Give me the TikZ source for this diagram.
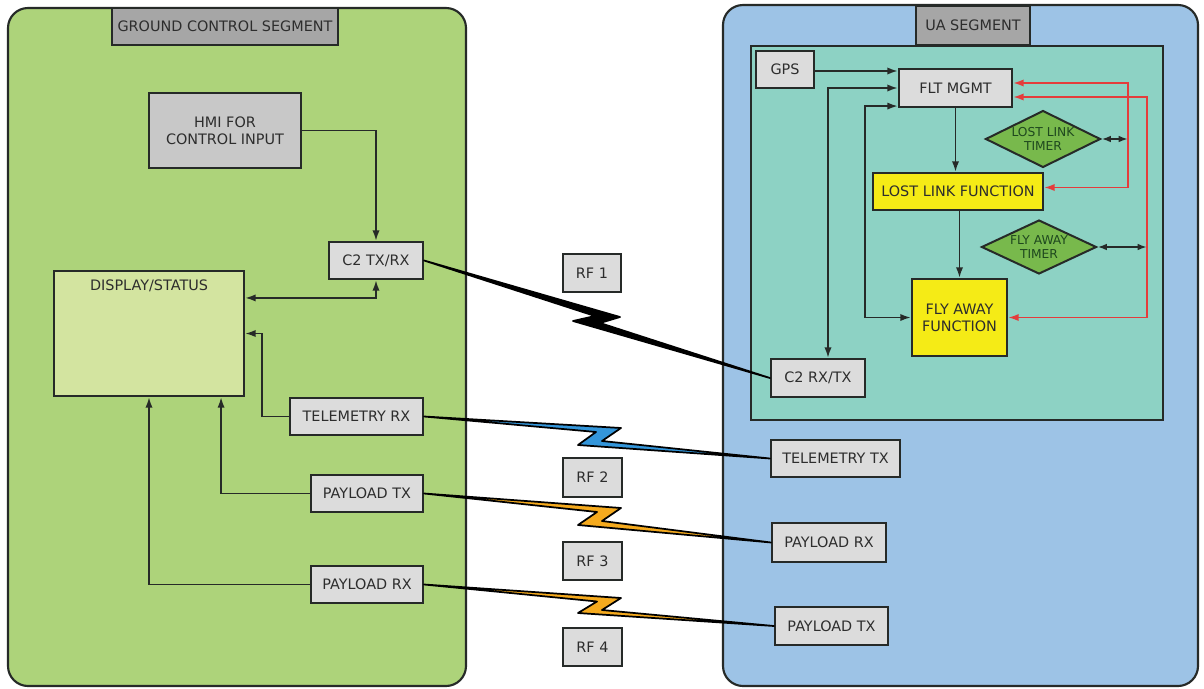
\documentclass[tikz,border=0pt]{standalone}
\usepackage{fontspec}
\setmainfont{DejaVu Sans}
\usetikzlibrary{arrows.meta,shapes.geometric,calc}

\definecolor{gcsgreen}{RGB}{173,211,122}
\definecolor{dispgreen}{RGB}{211,228,160}
\definecolor{uablue}{RGB}{157,195,230}
\definecolor{uateal}{RGB}{141,210,196}
\definecolor{hdrgray}{RGB}{166,166,166}
\definecolor{boxgray}{RGB}{220,220,220}
\definecolor{hmigray}{RGB}{200,200,200}
\definecolor{fnyellow}{RGB}{245,235,22}
\definecolor{tmrgreen}{RGB}{120,185,76}
\definecolor{tmrtext}{RGB}{30,72,30}
\definecolor{linkred}{RGB}{228,60,60}
\definecolor{rfblue}{RGB}{52,150,218}
\definecolor{rforange}{RGB}{245,170,30}
\definecolor{edge}{RGB}{38,42,40}
\definecolor{txt}{RGB}{45,45,45}

\begin{document}
\begin{tikzpicture}[x=0.75pt, y=-0.75pt,
        font=\fontsize{10.8}{12.8}\selectfont,
        sz/.style 2 args = {minimum width=#1*0.75pt, minimum height=#2*0.75pt},
        segment/.style = {draw=edge, line width=1.6pt, rounded corners=20*0.75pt},
        box/.style = {shape=rectangle, draw=edge, line width=1.6pt,
          fill=boxgray, text=txt, inner sep=0pt, align=center},
        hdr/.style = {box, fill=hdrgray},
        func/.style = {box, fill=fnyellow},
        timer/.style = {shape=diamond, draw=edge, line width=1.5pt, fill=tmrgreen,
          text=tmrtext, inner sep=0pt, aspect=1.885, minimum width=115*0.75pt,
          align=center, font=\fontsize{9.2}{10.8}\selectfont},
        arr/.style = {draw=edge, line width=1.4pt, -{Latex[length=8pt,width=5.5pt]}},
        dbl/.style = {draw=edge, line width=1.4pt,
          {Latex[length=8pt,width=5.5pt]}-{Latex[length=8pt,width=5.5pt]}},
        tmrarr/.style = {draw=edge, line width=1.4pt,
          {Latex[length=7pt,width=5pt]}-{Latex[length=7pt,width=5pt]}},
        redarr/.style = {draw=linkred, line width=1.4pt,
          {Latex[length=8pt,width=5.5pt]}-{Latex[length=8pt,width=5.5pt]}},
        bolt/.style = {draw=black, line width=1.3pt, line join=round}]
  \useasboundingbox (0,0) rectangle (1204,689);

  % ground side
  \draw[segment, fill=gcsgreen] (8,8) rectangle (466,686);
  \node[hdr, sz={226}{37}] (gcshdr) at (225,26.5) {GROUND CONTROL SEGMENT};
  \node[box, fill=hmigray, sz={152}{75}] (hmi) at (225,130.5) {HMI FOR\\CONTROL INPUT};
  \node[box, sz={94}{37}] (c2g) at (376,260.5) {C2 TX/RX};
  \node[box, fill=dispgreen, sz={190}{125},
    label={[anchor=north, text=txt, yshift=-3.5pt]north:DISPLAY/STATUS}] (disp) at (149,333.5) {};
  \node[box, sz={133}{37}] (tlmrx) at (356.5,416.5) {TELEMETRY RX};
  \node[box, sz={112}{37}] (pltxg) at (367,493.5) {PAYLOAD TX};
  \node[box, sz={112}{37}] (plrxg) at (367,584.5) {PAYLOAD RX};

  \draw[arr] (hmi.east) -| (c2g.north);
  \draw[dbl] ($(disp.north east)+(0,28)$) -| (c2g.south);
  \draw[arr] (tlmrx.west) -- ++(-27,0) |- (disp.east);
  \draw[arr] (pltxg.west) -| ($(disp.south east)+(-24,0)$);
  \draw[arr] (plrxg.west) -| (disp.south);

  % air side
  \draw[segment, fill=uablue] (723,5) rectangle (1198,686);
  \node[hdr, sz={114}{39}] (uahdr) at (973,25.5) {UA SEGMENT};
  \draw[draw=edge, line width=1.6pt, fill=uateal] (751,46) rectangle (1163,420);
  \node[box, sz={58}{37}] (gps) at (785,69.5) {GPS};
  \node[box, sz={113}{38}] (flt) at (955.5,88) {FLT MGMT};
  \node[func, sz={170}{37}] (llf) at (958,191.5) {LOST LINK FUNCTION};
  \node[func, sz={95}{77}] (faf) at (959.5,317.5) {FLY AWAY\\FUNCTION};
  \node[timer] (llt) at (1043,139) {LOST LINK\\TIMER};
  \node[timer] (fat) at (1039,247) {FLY AWAY\\TIMER};
  \node[box, sz={94}{38}] (c2a) at (818,378) {C2 RX/TX};
  \node[box, sz={129}{37}] (tlmtx) at (835.5,458.5) {TELEMETRY TX};
  \node[box, sz={114}{39}] (plrxa) at (829,542.5) {PAYLOAD RX};
  \node[box, sz={113}{38}] (pltxa) at (831.5,626) {PAYLOAD TX};

  \coordinate (redA) at (1128,139);
  \coordinate (redB) at (1147,247);

  \draw[arr] ($(gps.east)+(0,1.5)$) -- ($(gps.east -| flt.west)+(0,1.5)$);
  \draw[dbl] ($(c2a.north)+(10,0)$) |- (flt.west);
  \draw[dbl] (faf.west) -| ($(flt.south west)+(-33,-2)$) -- ($(flt.south west)+(0,-2)$);
  \draw[arr] (flt.south) -- (flt.south |- llf.north);
  \draw[arr] (faf.north |- llf.south) -- (faf.north);
  \draw[redarr] ($(flt.east)+(0,-5)$) -| (redA) |- ($(llf.east)+(0,-4)$);
  \draw[redarr] ($(flt.east)+(0,9)$) -| (redB) |- (faf.east);
  \draw[tmrarr] (llt.east) -- (llt.east -| redA);
  \draw[tmrarr] (fat.east) -- (fat.east -| redB);

  % radio links
  \node[box, sz={58}{38}] (rf1) at (592,273) {RF 1};
  \node[box, sz={59}{39}] (rf2) at (592.5,477.5) {RF 2};
  \node[box, sz={59}{38}] (rf3) at (592.5,561) {RF 3};
  \node[box, sz={59}{38}] (rf4) at (592.5,647) {RF 4};

  \coordinate (b1r) at (620,317);
  \coordinate (b1n) at (600,323);
  \coordinate (b1l) at (573,321);
  \coordinate (b1m) at (595,316);
  \filldraw[bolt, fill=black] (c2g.east) -- (b1r) -- (b1n) -- (c2a.west) -- (b1l) -- (b1m) -- cycle;

  \coordinate (b2r) at (621,428);
  \coordinate (b2n) at (602,441);
  \coordinate (b2l) at (578,445);
  \coordinate (b2m) at (596,432);
  \filldraw[bolt, fill=rfblue] (tlmrx.east) -- (b2r) -- (b2n) -- (tlmtx.west) -- (b2l) -- (b2m) -- cycle;

  \coordinate (b3r) at (621,508);
  \coordinate (b3n) at (602,521);
  \coordinate (b3l) at (578,525);
  \coordinate (b3m) at (597,512);
  \filldraw[bolt, fill=rforange] (pltxg.east) -- (b3r) -- (b3n) -- (plrxa.west) -- (b3l) -- (b3m) -- cycle;

  \coordinate (b4r) at (621,598);
  \coordinate (b4n) at (602,610);
  \coordinate (b4l) at (578,613);
  \coordinate (b4m) at (597,601.5);
  \filldraw[bolt, fill=rforange] (plrxg.east) -- (b4r) -- (b4n) -- (pltxa.west) -- (b4l) -- (b4m) -- cycle;
\end{tikzpicture}
\end{document}
